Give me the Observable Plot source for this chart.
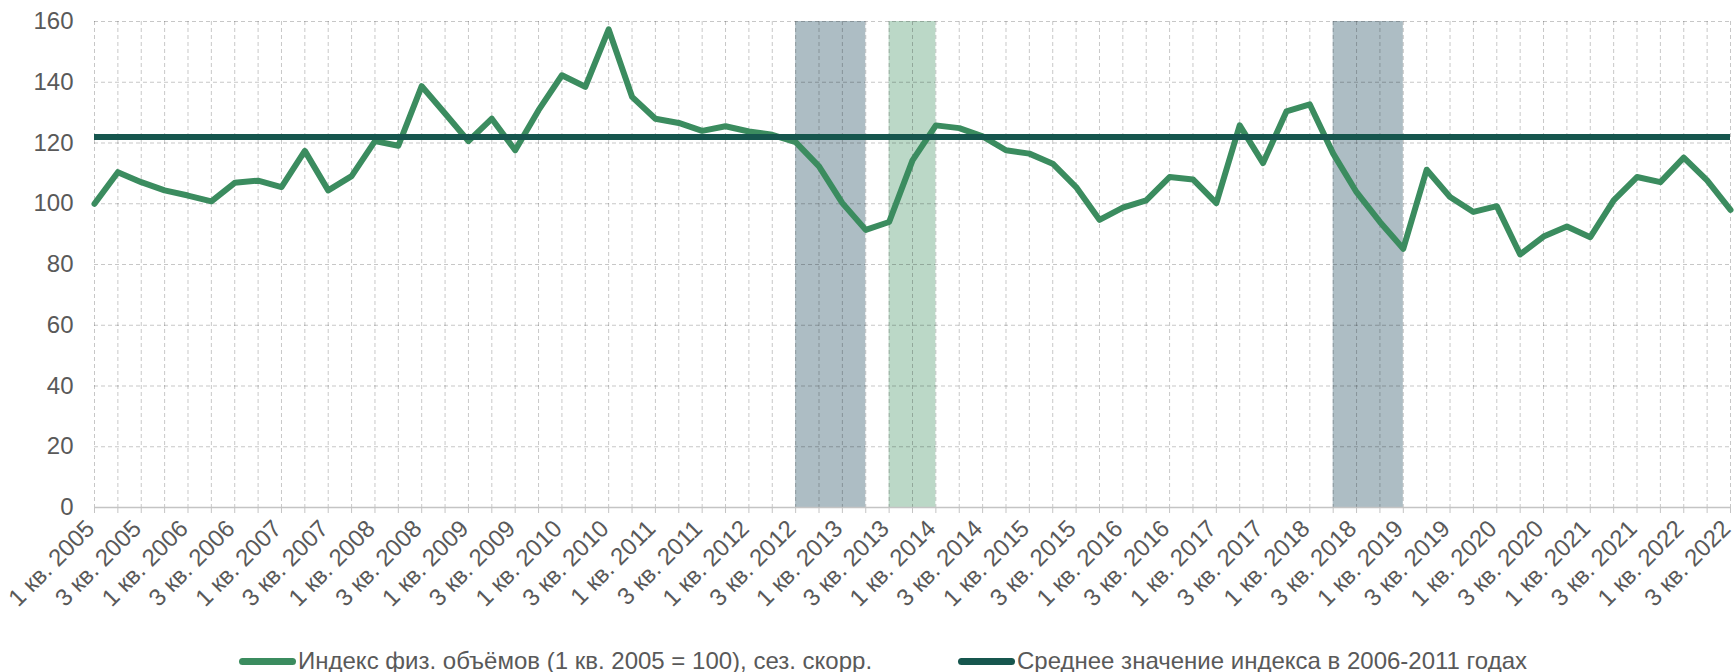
<!DOCTYPE html>
<html>
<head>
<meta charset="utf-8">
<script src="https://cdn.jsdelivr.net/npm/d3@7"></script>
<script src="https://cdn.jsdelivr.net/npm/@observablehq/plot@0.6"></script>
<style>
  html, body { margin: 0; padding: 0; background: #fff; }
  body { width: 1736px; height: 672px; position: relative; overflow: hidden; font-family: "Liberation Sans", Arial, sans-serif; }
  #chart { position: absolute; left: 0; top: 0; }
  .legend { position: absolute; top: 647px; left: 0; width: 1736px; height: 28px; font-size: 24px; line-height: 28px; color: #595959; }
  .item { position: absolute; display: flex; align-items: center; white-space: nowrap; height: 28px; }
  .sw { width: 57px; height: 7px; border-radius: 3.5px; margin-right: 2px; }
</style>
</head>
<body>
<div id="chart"></div>
<div class="legend">
  <div class="item" style="left:239px"><span class="sw" style="background:#3b8c5f"></span><span id="l1"></span></div>
  <div class="item" style="left:958px"><span class="sw" style="background:#16564e"></span><span id="l2"></span></div>
</div>
<script>
// Categories: quarters from 1 кв. 2005 to 3 кв. 2022
const years = d3.range(2005, 2023);
const quarters = [];
for (const y of years) for (const q of [1, 2, 3, 4]) {
  if (y === 2022 && q === 4) continue;
  quarters.push(`${q} кв. ${y}`);
}

// Index of physical volumes (1 кв. 2005 = 100), seasonally adjusted
const indexValues = [
  100.0, 110.4, 107.1, 104.4, 102.7, 100.8, 106.9, 107.6, 105.5, 117.4,
  104.4, 109.1, 120.6, 119.1, 138.7, 129.7, 120.6, 128.0, 117.6, 130.8,
  142.3, 138.5, 157.4, 135.2, 128.0, 126.6, 124.0, 125.5, 123.8, 122.7,
  120.3, 112.3, 100.2, 91.4, 94.0, 114.3, 125.8, 124.9, 122.2, 117.6,
  116.5, 113.2, 105.5, 94.7, 98.7, 101.1, 108.8, 108.0, 100.2, 125.8,
  113.4, 130.4, 132.7, 116.5, 103.8, 94.0, 85.2, 111.2, 102.2, 97.3,
  99.2, 83.3, 89.2, 92.5, 89.0, 101.1, 108.8, 107.1, 115.2, 107.7, 98.0
];

// Mean index over 2006-2011
const averageValue = [122.0];

// Shaded periods
const bandStarts = ["3 кв. 2012", "3 кв. 2013", "2 кв. 2018"];
const bandEnds   = ["2 кв. 2013", "1 кв. 2014", "1 кв. 2019"];
const bandKinds  = ["grey", "green", "grey"];

const yTicks = [0, 20, 40, 60, 80, 100, 120, 140, 160];

const seriesNames = ["Индекс физ. объёмов (1 кв. 2005 = 100), сез. скорр.", "Среднее значение индекса в 2006-2011 годах"];

// ---- build ----
const data = quarters.map((q, i) => ({i, q, v: indexValues[i]}));
const bands = bandStarts.map((s, k) => ({x1: quarters.indexOf(s), x2: quarters.indexOf(bandEnds[k]), kind: bandKinds[k]}));
const bandFill = {grey: "#adbdc4", green: "#bbd8c7"};
const idx = d3.range(quarters.length);
const labelIdx = idx.filter(i => quarters[i].startsWith("1") || quarters[i].startsWith("3"));
const font = "Liberation Sans, Arial, sans-serif";

const chart = Plot.plot({
  width: 1736,
  height: 640,
  marginTop: 21,
  marginBottom: 133,
  marginLeft: 94,
  marginRight: 6,
  style: {fontFamily: font, fontSize: "24px", color: "#595959", background: "transparent", overflow: "visible"},
  x: {type: "linear", domain: [0, quarters.length - 1]},
  y: {domain: [0, 160]},
  marks: [
    Plot.rect(bands, {x1: "x1", x2: "x2", fill: d => bandFill[d.kind]}),
    Plot.gridX(idx, {stroke: "#000", strokeOpacity: 0.22, strokeDasharray: "4,3", strokeWidth: 1}),
    Plot.gridY(yTicks.filter(d => d > 0), {stroke: "#000", strokeOpacity: 0.22, strokeDasharray: "4,3", strokeWidth: 1}),
    Plot.ruleY([0], {stroke: "#c4c4c4", strokeWidth: 1.5}),
    Plot.axisX({ticks: idx, tickSize: 6, stroke: "#c4c4c4", text: null, label: null}),
    Plot.axisX({
      ticks: labelIdx, tickSize: 0, fill: "#595959",
      tickRotate: -45, tickPadding: 17, fontSize: 24, dx: -4,
      tickFormat: i => quarters[i],
      label: null
    }),
    Plot.axisY({ticks: yTicks, tickSize: 0, tickPadding: 21, fill: "#595959", fontSize: 24, label: null}),
    Plot.lineY(data, {x: "i", y: "v", stroke: "#3b8c5f", strokeWidth: 6, strokeLinejoin: "round"}),
    Plot.ruleY(averageValue, {x1: 0, x2: quarters.length - 1, stroke: "#16564e", strokeWidth: 6})
  ]
});
document.getElementById("chart").appendChild(chart);
document.getElementById("l1").textContent = seriesNames[0];
document.getElementById("l2").textContent = seriesNames[1];
</script>
</body>
</html>
